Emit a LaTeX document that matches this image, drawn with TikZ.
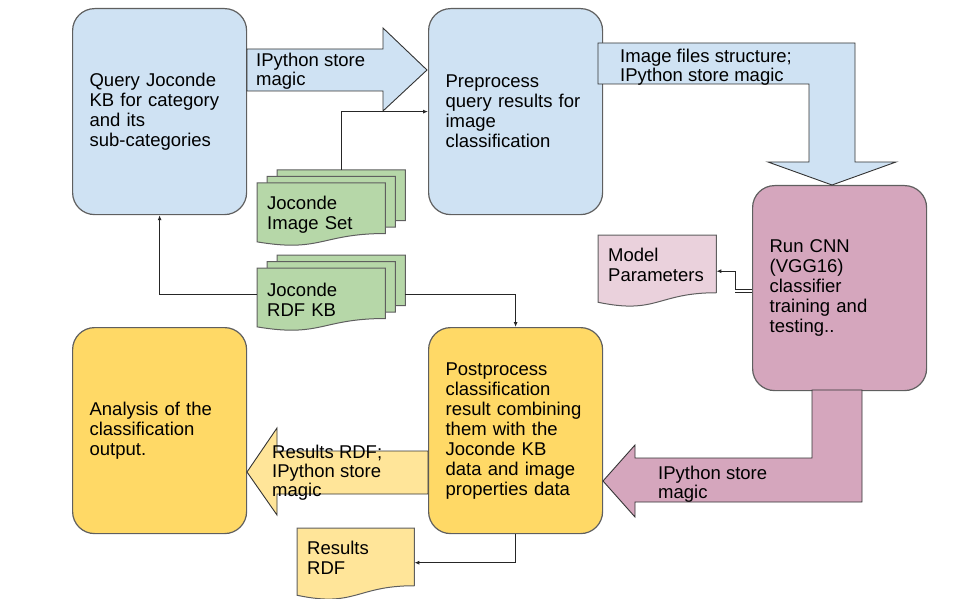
\documentclass[tikz,border=0pt]{standalone}
\usepackage{fontspec}
\setmainfont{Liberation Sans}
\usetikzlibrary{arrows.meta,calc}

\definecolor{kbblue}{HTML}{CFE2F3}
\definecolor{cnnpink}{HTML}{D5A6BD}
\definecolor{parpink}{HTML}{EAD1DC}
\definecolor{outyellow}{HTML}{FFD966}
\definecolor{resyellow}{HTML}{FFE599}
\definecolor{setgreen}{HTML}{B6D7A8}
\definecolor{edgegray}{HTML}{5F5F5F}

\pgfdeclarelayer{sheets}
\pgfsetlayers{sheets,main}

% document sheet with a wavy bottom: [offset] node, full height, fill
\newcommand{\docsheet}[4][0,0]{%
	\draw[sheet, fill=#4] ($(#2.north west)+(#1)$) -- ($(#2.north east)+(#1)$)
		-- ($(#2.north east)+(#1)+(0,0.802*#3)$)
		.. controls ($(#2.north)+(#1)+(0,0.802*#3)$) and ($(#2.north)+(#1)+(0,1.107*#3)$)
		.. ($(#2.north west)+(#1)+(0,0.934*#3)$) -- cycle;}

\begin{document}
\begin{tikzpicture}[x=1pt, y=-1pt,
		font=\fontsize{18.5}{20}\selectfont,
		procbox/.style = {draw=edgegray, line width=1.2pt, rounded corners=22pt, anchor=north west,
			align=left, inner xsep=17pt, text width=140pt},
		docnode/.style = {anchor=north west, align=left, inner xsep=10pt, inner ysep=0pt},
		sheet/.style = {draw=edgegray, line width=1pt},
		blockarrow/.style = {draw=black!80, line width=0.9pt},
		storelabel/.style = {anchor=west, align=left, inner sep=0pt, font=\fontsize{18.5}{19}\selectfont},
		conn/.style = {draw=black!85, line width=0.9pt, -{Latex[length=5pt,width=4pt]}}]
	\useasboundingbox (0,0) rectangle (959,599);

	% process boxes
	\node[procbox, fill=kbblue, minimum height=206pt] (qry) at (72,8) {Query Joconde\\KB for category\\and its\\sub-categories};
	\node[procbox, fill=kbblue, minimum height=206pt] (prep) at (428,8) {Preprocess\\query results for\\image\\classification};
	\node[procbox, fill=cnnpink, minimum height=205pt] (cnn) at (752,185) {Run CNN\\(VGG16)\\classifier\\training and\\testing..};
	\node[procbox, fill=outyellow, minimum height=206pt] (post) at (428,327) {Postprocess\\classification\\result combining\\them with the\\Joconde KB\\data and image\\properties data};
	\node[procbox, fill=outyellow, minimum height=206pt] (anal) at (72,327) {Analysis of the\\classification\\output.};

	% data sheets
	\node[docnode, text width=108pt, minimum height=63pt] (imgset) at (257,183) {Joconde\\Image Set};
	\node[docnode, text width=108pt, minimum height=63pt] (rdfkb) at (257,268) {Joconde\\RDF KB};
	\node[docnode, text width=98pt, minimum height=60pt] (modpar) at (598,235) {Model\\Parameters};
	\node[docnode, text width=97pt, minimum height=59pt] (resrdf) at (297,528) {Results\\RDF};
	\begin{pgfonlayer}{sheets}
		\docsheet[20,-13]{imgset}{63}{setgreen}
		\docsheet[10,-6.5]{imgset}{63}{setgreen}
		\docsheet{imgset}{63}{setgreen}
		\docsheet[20,-13]{rdfkb}{63}{setgreen}
		\docsheet[10,-6.5]{rdfkb}{63}{setgreen}
		\docsheet{rdfkb}{63}{setgreen}
		\docsheet{modpar}{72}{parpink}
		\docsheet{resrdf}{72}{resyellow}
	\end{pgfonlayer}

	% block arrows
	\draw[blockarrow, fill=kbblue] (247,49) -- (383,49) -- (383,28) -- (427,70) -- (383,111) -- (383,91) -- (247,91) -- cycle;
	\node[storelabel] (qrystore) at (256,71) {IPython store\\magic};
	\draw[blockarrow, fill=kbblue] (598,43) -- (855,43) -- (855,162) -- (896,162) -- (832,185) -- (768,162) -- (809,162) -- (809,84) -- (598,84) -- cycle;
	\node[storelabel] (prepstore) at (620,67) {Image files structure;\\IPython store magic};
	\draw[blockarrow, fill=cnnpink] (812,390) -- (862,390) -- (862,502) -- (635,502) -- (635,517) -- (603,481) -- (635,445) -- (635,458) -- (812,458) -- cycle;
	\node[storelabel] (cnnstore) at (658,484) {IPython store\\magic};
	\draw[blockarrow, fill=resyellow] (428,451) -- (277,451) -- (277,428) -- (247,472) -- (277,515) -- (277,494) -- (428,494) -- cycle;
	\node[storelabel] (poststore) at (272,473) {Results RDF;\\IPython store\\magic};

	% connectors
	\draw[conn] ([xshift=20pt,yshift=13pt]imgset.north) |- (prep.west);
	\draw[conn] ([yshift=5pt]rdfkb.west) -| (qry.south);
	\draw[conn] ([xshift=20pt,yshift=5pt]rdfkb.east) -| (post.north);
	\draw[conn] ([yshift=-1pt]cnn.west) -- ++(-17,0) |- ([yshift=-6pt]modpar.east);
	\draw[draw=black!85, line width=0.9pt] ([yshift=-4.5pt]cnn.west) -- ++(-17,0);
	\draw[conn] (post.south) |- ([yshift=-5pt]resrdf.east);
\end{tikzpicture}
\end{document}
